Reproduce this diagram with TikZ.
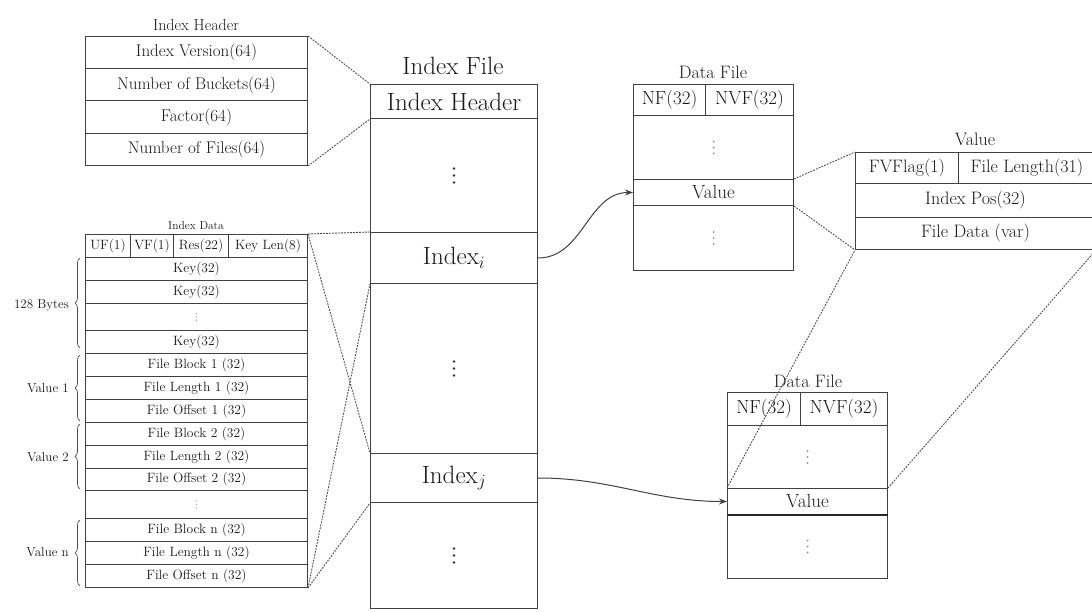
\documentclass[tikz,border=0pt]{standalone}
\usetikzlibrary{arrows.meta,decorations.pathreplacing}
\newcommand\myfs[1]{\fontsize{#1}{#1}\selectfont}
% three vertical dots centred on a node: node, spacing, radius, colour
\newcommand\dotcol[4]{\fill[#4] (#1.center) ++(0,-#2) circle (#3) (#1.center) circle (#3) (#1.center) ++(0,#2) circle (#3);}
\tikzset{
  cell/.style={draw=black!75, line width=1pt, inner sep=0pt, anchor=north west, align=center, text=black!90},
  ttl/.style={inner sep=0pt, text=black!90},
  dashconn/.style={draw=black!70, line width=0.9pt, dash pattern=on 1.8pt off 1.2pt},
  arrconn/.style={draw=black!75, line width=1pt, -{Stealth[length=8pt,width=6pt]}},
  bracebox/.style={draw=black!70, line width=0.7pt, decorate, decoration={brace, amplitude=5pt}},
  lbl/.style={inner sep=0pt, anchor=east, text=black!90, font=\myfs{13}},
}
\begin{document}
\begin{tikzpicture}[x=1pt,y=-1pt]
\useasboundingbox (0,0) rectangle (1092,612);
% ---------- Index Header ----------
\node[ttl, font=\myfs{16}] (iht) at (196,25) {Index Header};
\begin{scope}[every node/.append style={cell, font=\myfs{17}, minimum width=222pt, minimum height=32.25pt}]
\node (ih1) at (85,36) {Index Version(64)};
\node (ih2) at (85,68.25) {Number of Buckets(64)};
\node (ih3) at (85,100.5) {Factor(64)};
\node (ih4) at (85,132.75) {Number of Files(64)};
\end{scope}
% ---------- Index Data ----------
\node[ttl, font=\myfs{11.5}] (idt) at (196,226) {Index Data};
\begin{scope}[every node/.append style={cell, font=\myfs{13.5}, minimum height=23pt}]
\node[minimum width=45pt] (idh1) at (85,234) {UF(1)};
\node[minimum width=43pt] (idh2) at (130,234) {VF(1)};
\node[minimum width=55pt] (idh3) at (173,234) {Res(22)};
\node[minimum width=79pt] (idh4) at (228,234) {Key Len(8)};
\node[minimum width=222pt] (k1) at (85,257) {Key(32)};
\node[minimum width=222pt] (k2) at (85,280) {Key(32)};
\node[minimum width=222pt, minimum height=27pt] (kd) at (85,303) {};
\node[minimum width=222pt] (k3) at (85,330) {Key(32)};
\node[minimum width=222pt] (fb1) at (85,353) {File Block 1 (32)};
\node[minimum width=222pt] (fl1) at (85,376) {File Length 1 (32)};
\node[minimum width=222pt] (fo1) at (85,399) {File Offset 1 (32)};
\node[minimum width=222pt] (fb2) at (85,422) {File Block 2 (32)};
\node[minimum width=222pt] (fl2) at (85,445) {File Length 2 (32)};
\node[minimum width=222pt, minimum height=22pt] (fo2) at (85,468) {File Offset 2 (32)};
\node[minimum width=222pt, minimum height=28pt] (vd) at (85,490) {};
\node[minimum width=222pt] (fbn) at (85,518) {File Block n (32)};
\node[minimum width=222pt] (fln) at (85,541) {File Length n (32)};
\node[minimum width=222pt] (fon) at (85,564) {File Offset n (32)};
\end{scope}
\dotcol{kd}{3.5}{0.6}{black!40}
\dotcol{vd}{3.5}{0.6}{black!40}
% braces and labels
\draw[bracebox] (80,348) -- (80,258);
\draw[bracebox] (80,421) -- (80,355);
\draw[bracebox] (80,489) -- (80,424);
\draw[bracebox] (80,586) -- (80,520);
\node[lbl] (l128) at (69,305) {128 Bytes};
\node[lbl] (lv1) at (69,388) {Value 1};
\node[lbl] (lv2) at (69,457) {Value 2};
\node[lbl] (lvn) at (69,552) {Value n};
% ---------- Index File ----------
\node[ttl, font=\myfs{25}] (ift) at (453,66) {Index File};
\begin{scope}[every node/.append style={cell, font=\myfs{25}, minimum width=167pt}]
\node[minimum height=34pt] (ifh) at (370,84) {Index Header};
\node[minimum height=114pt] (ifg1) at (370,118) {};
\node[minimum height=51pt] (ii) at (370,232) {Index$_i$};
\node[minimum height=170pt] (ifg2) at (370,283) {};
\node[minimum height=49pt] (ij) at (370,453) {Index$_j$};
\node[minimum height=106pt] (ifg3) at (370,502) {};
\end{scope}
\dotcol{ifg1}{7}{1.4}{black!80}
\dotcol{ifg2}{7}{1.4}{black!80}
\dotcol{ifg3}{7}{1.4}{black!80}
% ---------- Data File (top) ----------
\node[ttl, font=\myfs{18}] (dft) at (713,72) {Data File};
\begin{scope}[every node/.append style={cell, font=\myfs{19}}]
\node[minimum width=72pt, minimum height=31pt] (dfa) at (633,84) {NF(32)};
\node[minimum width=88pt, minimum height=31pt] (dfb) at (705,84) {NVF(32)};
\node[minimum width=160pt, minimum height=64pt] (dfg1) at (633,115) {};
\node[minimum width=160pt, minimum height=26pt] (dfv) at (633,179) {Value};
\node[minimum width=160pt, minimum height=65pt] (dfg2) at (633,205) {};
\end{scope}
\dotcol{dfg1}{6}{1}{black!45}
\dotcol{dfg2}{6}{1}{black!45}
% ---------- Value ----------
\node[ttl, font=\myfs{18}] (vbt) at (975,139) {Value};
\begin{scope}[every node/.append style={cell, font=\myfs{18}}]
\node[minimum width=103pt, minimum height=31pt] (vba) at (855,152) {FVFlag(1)};
\node[minimum width=137pt, minimum height=31pt] (vbb) at (958,152) {File Length(31)};
\node[minimum width=240pt, minimum height=34pt] (vbc) at (855,183) {Index Pos(32)};
\node[minimum width=240pt, minimum height=32pt] (vbd) at (855,217) {File Data (var)};
\end{scope}
% ---------- Data File (bottom) ----------
\node[ttl, font=\myfs{18}] (dgt) at (808,381) {Data File};
\begin{scope}[every node/.append style={cell, font=\myfs{19}}]
\node[minimum width=73pt, minimum height=33pt] (dga) at (727,392) {NF(32)};
\node[minimum width=87pt, minimum height=33pt] (dgb) at (800,392) {NVF(32)};
\node[minimum width=160pt, minimum height=63pt] (dgg1) at (727,425) {};
\node[minimum width=160pt, minimum height=26pt] (dgv) at (727,488) {Value};
\node[minimum width=160pt, minimum height=64pt] (dgg2) at (727,514) {};
\end{scope}
\dotcol{dgg1}{6}{1}{black!45}
\dotcol{dgg2}{6}{1}{black!45}
\draw[black!85, line width=2.2pt] (dgv.south west) -- (dgv.south east);
% ---------- connectors ----------
\draw[dashconn] (ih1.north east) -- (ifh.north west);
\draw[dashconn] (ih4.south east) -- (ifh.south west);
\draw[dashconn] (idh4.north east) -- (ii.north west);
\draw[dashconn] (idh4.north east) -- (ij.north west);
\draw[dashconn] (fon.south east) -- (ii.south west);
\draw[dashconn] (fon.south east) -- (ij.south west);
\draw[arrconn] (ii.east) to[out=0,in=180] (dfv.west);
\draw[arrconn] (ij.east) to[out=0,in=180] (dgv.west);
\draw[dashconn] (dfv.north east) -- (vba.north west);
\draw[dashconn] (dfv.south east) -- (vbd.south west);
\draw[dashconn] (dgv.north west) -- (vbd.south west);
\draw[dashconn] (dgv.north east) -- (vbd.south east);
\end{tikzpicture}
\end{document}
